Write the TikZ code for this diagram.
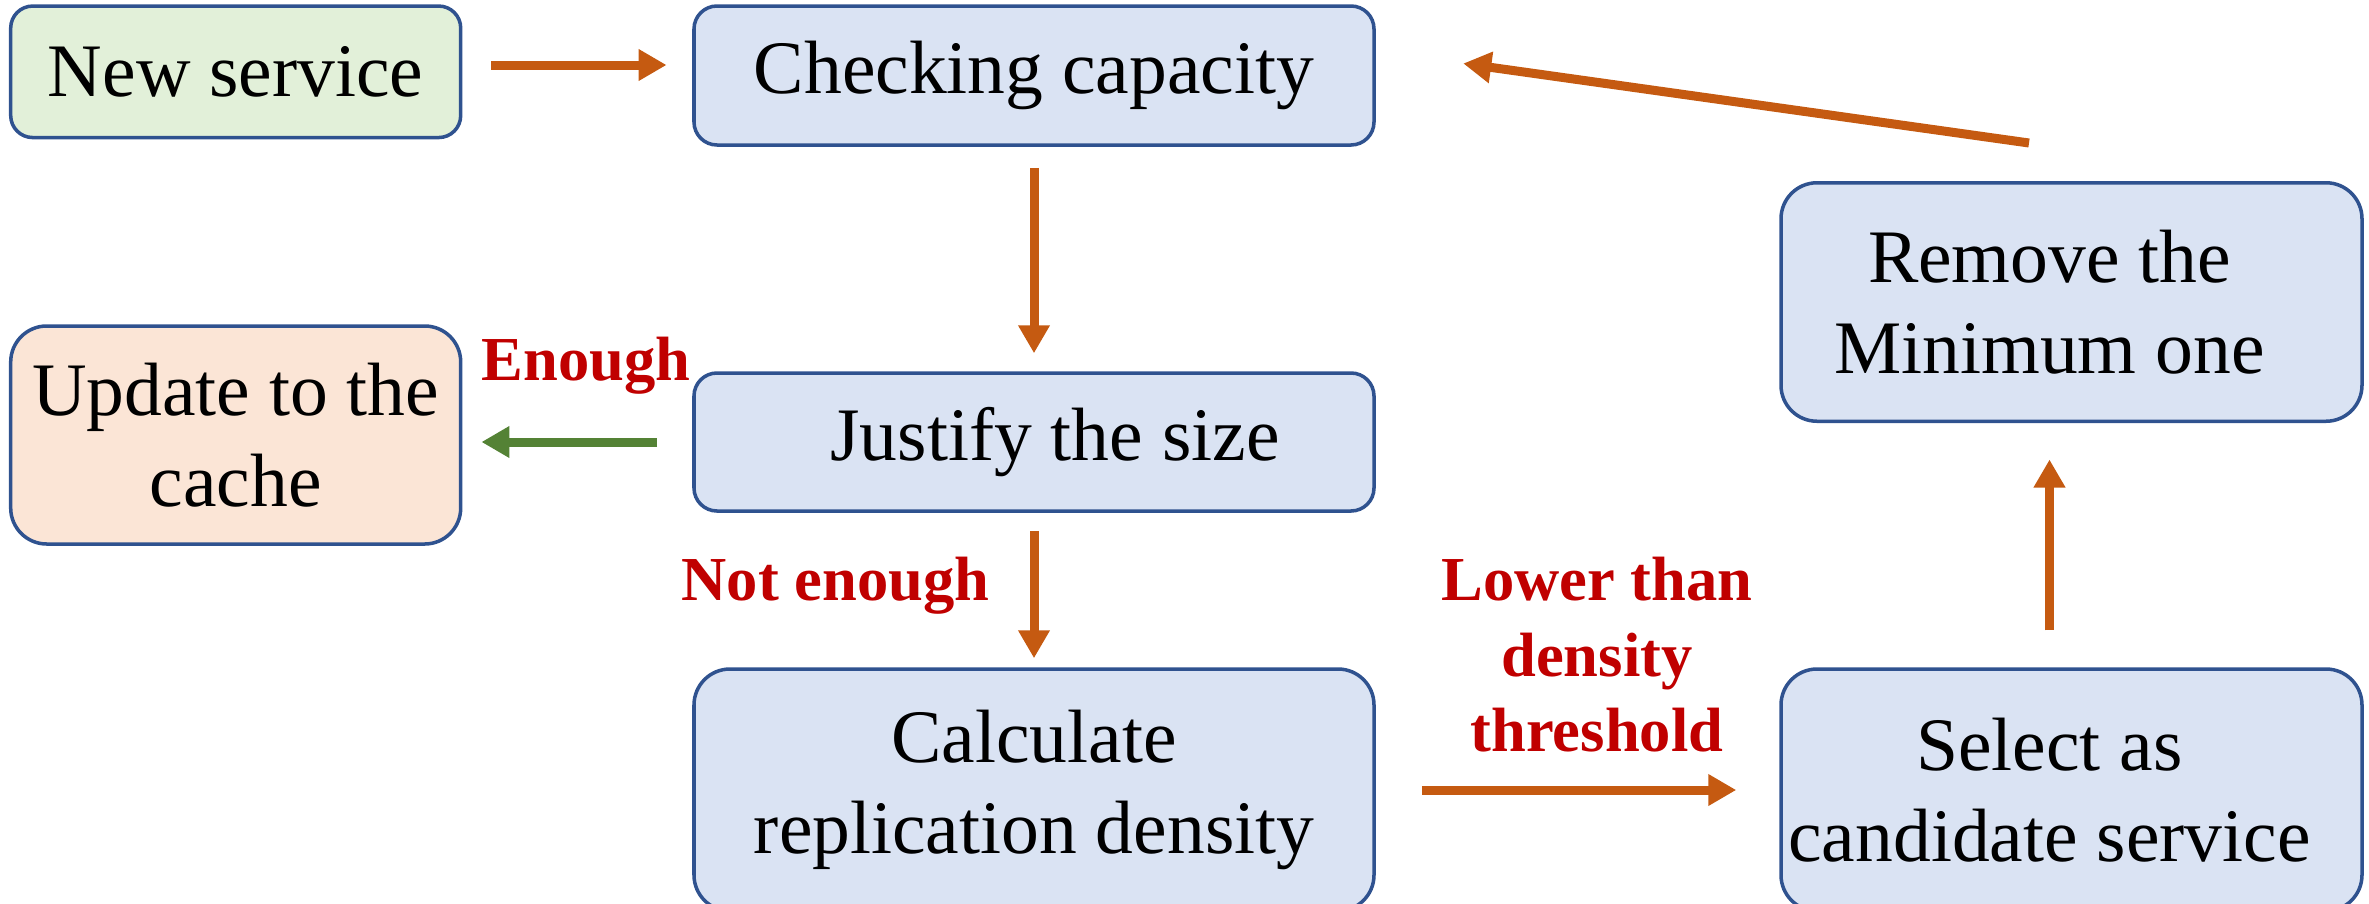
\documentclass[tikz,border=0pt]{standalone}
\usepackage{fontspec}
\setmainfont{Liberation Serif}
\usetikzlibrary{arrows.meta}

\definecolor{edgeblue}{HTML}{2F528F}
\definecolor{boxblue}{HTML}{DAE3F3}
\definecolor{boxgreen}{HTML}{E2F0D9}
\definecolor{boxpeach}{HTML}{FBE5D6}
\definecolor{floworange}{HTML}{C55A11}
\definecolor{flowgreen}{HTML}{548235}
\definecolor{condred}{HTML}{C00000}

\tikzset{
  stepfont/.style={font=\fontsize{21.5}{25.8}\selectfont},
  stepbox/.style={draw=edgeblue, line width=1pt, fill=boxblue, rounded corners=0.36cm,
    align=center, inner sep=0pt, stepfont},
  steptext/.style={label={[stepfont, align=center, xshift=#1]center:\steplines}},
  flow/.style={draw=floworange, line width=0.09cm, -{Triangle[length=0.28cm,width=0.3cm]}},
  cond/.style={text=condred, align=center, font=\bfseries\fontsize{17.8}{21.5}\selectfont}
}

\begin{document}
\begin{tikzpicture}
  \useasboundingbox (0,0) rectangle (23.69,-9.03);
  % steps
  \node[stepbox, fill=boxgreen, minimum width=4.5cm, minimum height=1.315cm, rounded corners=0.22cm] (new) at (2.357,-0.718) {New service};
  \node[stepbox, minimum width=6.8cm, minimum height=1.39cm, rounded corners=0.23cm] (check) at (10.34,-0.755) {Checking capacity};
  \node[stepbox, fill=boxpeach, minimum width=4.5cm, minimum height=2.18cm] (update) at (2.357,-4.35) {Update to the\\cache};
  \def\steplines{Justify the size}
  \node[stepbox, minimum width=6.8cm, minimum height=1.38cm, rounded corners=0.23cm, steptext=0.21cm] (justify) at (10.34,-4.42) {};
  \node[stepbox, minimum width=6.8cm, minimum height=2.42cm] (calc) at (10.34,-7.9) {Calculate\\replication density};
  \def\steplines{Select as\\candidate service}
  \node[stepbox, minimum width=5.81cm, minimum height=2.42cm, steptext=-0.22cm] (select) at (20.715,-7.9) {};
  \def\steplines{Remove the\\Minimum one}
  \node[stepbox, minimum width=5.81cm, minimum height=2.385cm, steptext=-0.22cm] (remove) at (20.715,-3.02) {};
  % conditions
  \node[cond] (enough) at (5.86,-3.66) {Enough};
  \node[cond] (notenough) at (8.355,-5.86) {Not enough};
  \node[cond] (lower) at (15.97,-6.55) {Lower than\\density\\threshold};
  % flow
  \draw[flow] ([shift={(0.29,0.068)}]new.east) -- ([shift={(-0.257,0.105)}]check.west);
  \draw[flow, shorten <=0.21cm, shorten >=0.18cm] (check.south) -- (justify.north);
  \draw[flow, draw=flowgreen, shorten <=0.35cm, shorten >=0.19cm] (justify.west) -- (justify.west -| update.east);
  \draw[flow, shorten <=0.18cm, shorten >=0.09cm] (justify.south) -- (calc.north);
  \draw[flow, shorten <=0.46cm, shorten >=0.43cm] (calc.east) -- (select.west);
  \draw[flow, shorten <=0.37cm, shorten >=0.365cm] ([xshift=-0.22cm]select.north) -- ([xshift=-0.22cm]remove.south);
  \draw[flow] ([shift={(-0.425,0.38)}]remove.north) -- ([shift={(0.875,0.12)}]check.east);
\end{tikzpicture}
\end{document}
